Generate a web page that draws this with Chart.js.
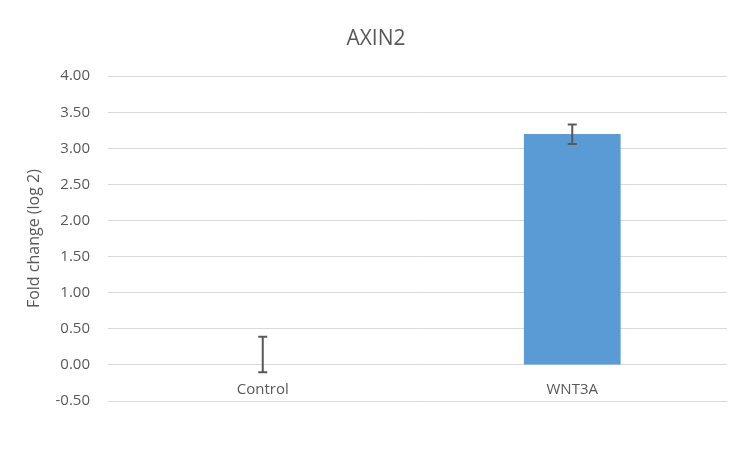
<!DOCTYPE html>
<html>
<head>
<meta charset="utf-8">
<script src="https://cdn.jsdelivr.net/npm/chart.js@4/dist/chart.umd.min.js"></script>
<style>
  html, body { margin: 0; padding: 0; background: #fff; }
  #wrap { width: 750px; height: 449px; }
</style>
</head>
<body>
<div id="wrap"><canvas id="graph"></canvas></div>
<script>
/// data ///
const categories = ['Control', 'WNT3A']
const foldValues = [0.00, 3.20]
const errPlus = [0.39, 0.13]
const errMinus = [0.10, 0.14]
const yTicks = [-0.5, 0, 0.5, 1, 1.5, 2, 2.5, 3, 3.5, 4]

const textColor = '#595959'
const fontName = "'Open Sans', 'Liberation Sans', sans-serif"

/// error bars drawn on top of the bars ///
const errorBars = {
  id: 'errorBars',
  afterDatasetsDraw(chart) {
    const ctx = chart.ctx
    const xs = chart.scales.x
    const ys = chart.scales.y
    ctx.save()
    ctx.strokeStyle = '#595959'
    ctx.lineWidth = 2
    for (let i = 0; i < foldValues.length; i++) {
      const x = xs.getPixelForValue(i)
      const top = ys.getPixelForValue(foldValues[i] + errPlus[i])
      const bot = ys.getPixelForValue(foldValues[i] - errMinus[i])
      ctx.beginPath()
      ctx.moveTo(x, top); ctx.lineTo(x, bot)
      ctx.moveTo(x - 4.5, top); ctx.lineTo(x + 4.5, top)
      ctx.moveTo(x - 4.5, bot); ctx.lineTo(x + 4.5, bot)
      ctx.stroke()
    }
    ctx.restore()
  }
}

Chart.defaults.font.family = fontName
Chart.defaults.color = textColor

const ctx = document.getElementById('graph').getContext('2d')
const myChart = new Chart(ctx, {
  type: 'bar',
  data: {
    labels: categories,
    datasets: [{
      label: 'AXIN2',
      data: foldValues,
      backgroundColor: '#5b9bd5',
      borderWidth: 0,
      categoryPercentage: 1,
      barPercentage: 0.3125
    }]
  },
  options: {
    responsive: true,
    maintainAspectRatio: false,
    animation: false,
    layout: { padding: { left: 25, right: 23, top: 0, bottom: 48 } },
    plugins: {
      legend: { display: false },
      tooltip: { enabled: false },
      title: {
        display: true,
        text: 'AXIN2',
        color: textColor,
        font: { size: 21, weight: 'normal' },
        padding: { top: 26, bottom: 25 }
      }
    },
    scales: {
      x: {
        position: { y: 0 },
        grid: { display: false },
        border: { display: false },
        ticks: { font: { size: 15 }, padding: 8, color: textColor }
      },
      y: {
        min: -0.5,
        max: 4,
        afterBuildTicks(scale) { scale.ticks = yTicks.map(v => ({ value: v })) },
        afterFit(scale) { scale.width = 83 },
        grid: { color: '#d9d9d9', lineWidth: 1, drawTicks: false },
        border: { display: false },
        ticks: {
          font: { size: 15 },
          padding: 18,
          color: textColor,
          callback: v => Number(v).toFixed(2)
        },
        title: {
          display: true,
          text: 'Fold change (log 2)',
          font: { size: 16 },
          color: textColor,
          padding: { top: 0, bottom: 6 }
        }
      }
    }
  },
  plugins: [errorBars]
})
</script>
</body>
</html>
